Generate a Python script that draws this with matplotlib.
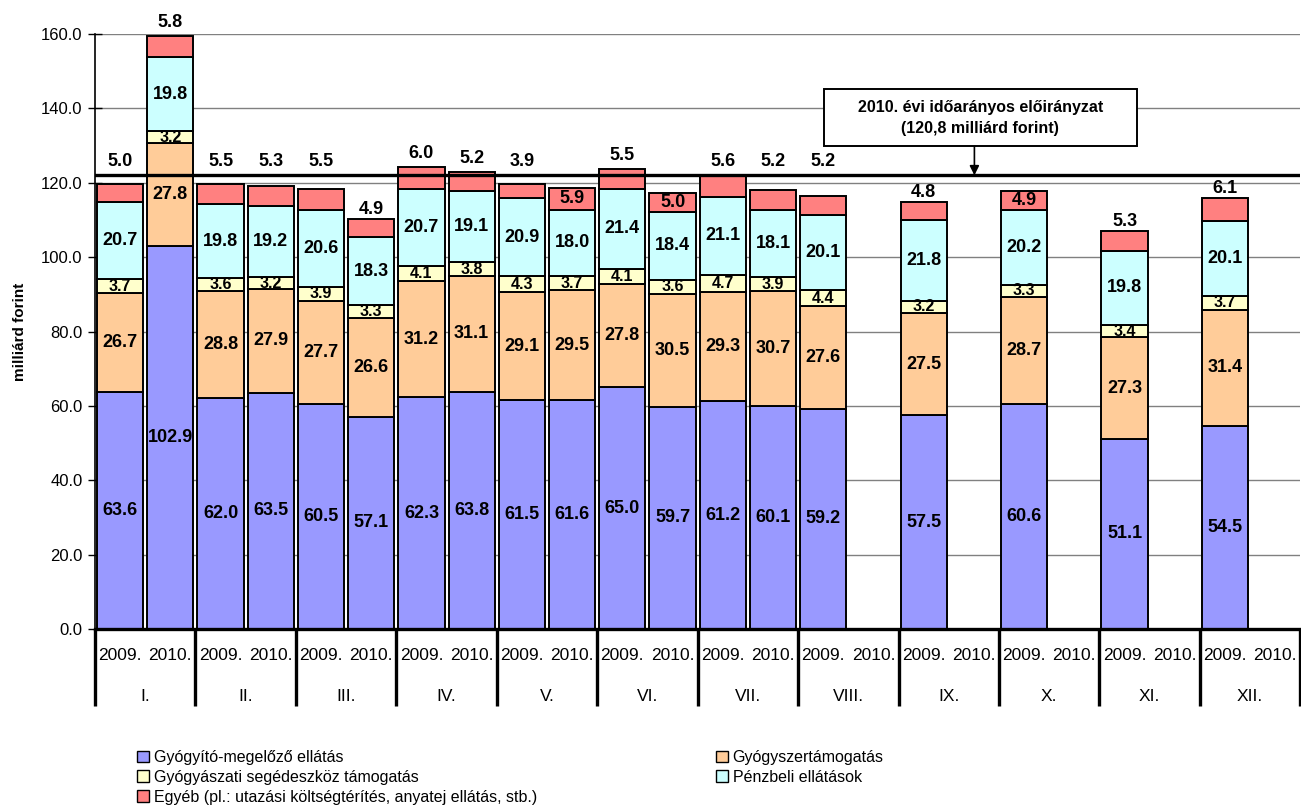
import numpy as np
import matplotlib
matplotlib.use("Agg")
from matplotlib import pyplot as plt
from matplotlib.patches import Patch, Rectangle

# data (milliárd forint)
months = ['I.', 'II.', 'III.', 'IV.', 'V.', 'VI.', 'VII.', 'VIII.', 'IX.', 'X.', 'XI.', 'XII.']
years = ['2009.', '2010.']

gyogyito_2009 = [63.6, 62.0, 60.5, 62.3, 61.5, 65.0, 61.2, 59.2, 57.5, 60.6, 51.1, 54.5]
gyogyszer_2009 = [26.7, 28.8, 27.7, 31.2, 29.1, 27.8, 29.3, 27.6, 27.5, 28.7, 27.3, 31.4]
segedeszkoz_2009 = [3.7, 3.6, 3.9, 4.1, 4.3, 4.1, 4.7, 4.4, 3.2, 3.3, 3.4, 3.7]
penzbeli_2009 = [20.7, 19.8, 20.6, 20.7, 20.9, 21.4, 21.1, 20.1, 21.8, 20.2, 19.8, 20.1]
egyeb_2009 = [5.0, 5.5, 5.5, 6.0, 3.9, 5.5, 5.6, 5.2, 4.8, 4.9, 5.3, 6.1]

gyogyito_2010 = [102.9, 63.5, 57.1, 63.8, 61.6, 59.7, 60.1]
gyogyszer_2010 = [27.8, 27.9, 26.6, 31.1, 29.5, 30.5, 30.7]
segedeszkoz_2010 = [3.2, 3.2, 3.3, 3.8, 3.7, 3.6, 3.9]
penzbeli_2010 = [19.8, 19.2, 18.3, 19.1, 18.0, 18.4, 18.1]
egyeb_2010 = [5.8, 5.3, 4.9, 5.2, 5.9, 5.0, 5.2]

eloiranyzat = 122.0  # drawn line level (label says 120,8)

series_names = ['Gyógyító-megelőző ellátás', 'Gyógyszertámogatás',
                'Gyógyászati segédeszköz támogatás', 'Pénzbeli ellátások',
                'Egyéb (pl.: utazási költségtérítés, anyatej ellátás, stb.)']
colors = ['#9999FF', '#FFCC99', '#FFFFCC', '#CCFFFF', '#FF8080']

plt.rcParams['font.family'] = ['Liberation Sans', 'DejaVu Sans']

fig = plt.figure(figsize=(13.01, 8.07), dpi=100)
ax = fig.add_axes([95 / 1301, 1 - 629 / 807, 1 - 95 / 1301 - 0.0005, 595 / 807])

data = {
    0: [gyogyito_2009, gyogyszer_2009, segedeszkoz_2009, penzbeli_2009, egyeb_2009],
    1: [gyogyito_2010, gyogyszer_2010, segedeszkoz_2010, penzbeli_2010, egyeb_2010],
}
# Egyéb labels that sit inside the red segment
inside = {(1, 4), (1, 5), (0, 9)}

w = 0.92
for yi in (0, 1):
    series = data[yi]
    n = len(series[0])
    x = np.arange(n) * 2 + yi + 0.5
    bottom = np.zeros(n)
    for si, vals in enumerate(series):
        vals = np.array(vals)
        ax.bar(x, vals, w, bottom=bottom, color=colors[si], edgecolor='black',
               linewidth=1.4, zorder=3)
        for k in range(n):
            if si < 4:
                fs = 11.5 if si == 2 else 13
                ax.text(x[k], bottom[k] + vals[k] / 2, f'{vals[k]:.1f}', ha='center',
                        va='center', fontsize=fs, fontweight='bold', zorder=5)
            else:
                top = bottom[k] + vals[k]
                if (yi, k) in inside:
                    ty = bottom[k] + vals[k] / 2
                elif top > 116:
                    ty = max(top, eloiranyzat) + 3.6
                else:
                    ty = top + 2.6
                ax.text(x[k], ty, f'{vals[k]:.1f}', ha='center', va='center',
                        fontsize=13, fontweight='bold', zorder=5, clip_on=False)
        bottom = bottom + vals

ax.set_xlim(0, 24)
ax.set_ylim(0, 160)
ax.set_yticks(np.arange(0, 161, 20))
ax.set_yticklabels([f'{v:.1f}' for v in np.arange(0, 161, 20)], fontsize=12)
ax.tick_params(axis='y', direction='inout', length=10, width=1, pad=4)
ax.set_xticks([])
ax.grid(axis='y', color='#808080', linewidth=1, zorder=0)
ax.set_axisbelow(True)
for s in ('top', 'right'):
    ax.spines[s].set_visible(False)
ax.spines['left'].set_linewidth(1.2)
ax.spines['bottom'].set_linewidth(2.4)
ax.spines['bottom'].set_zorder(6)
ax.set_ylabel('milliárd forint', fontsize=11, fontweight='bold', labelpad=10)

# target line
ax.axhline(eloiranyzat, color='black', linewidth=2.4, zorder=4)

# annotation box
box_x0, box_x1, box_y0, box_y1 = 14.51, 20.74, 129.8, 145.2
ax.add_patch(Rectangle((box_x0, box_y0), box_x1 - box_x0, box_y1 - box_y0,
                       facecolor='white', edgecolor='black', linewidth=1.4, zorder=6))
ax.text((box_x0 + box_x1) / 2, (box_y0 + box_y1) / 2,
        '2010. évi időarányos előirányzat\n(120,8 milliárd forint)',
        ha='center', va='center', fontsize=11.5, fontweight='bold',
        linespacing=1.5, zorder=7)
ax.annotate('', xy=(17.51, eloiranyzat), xytext=(17.51, box_y0),
            arrowprops=dict(arrowstyle='-|>', color='black', lw=1.2,
                            mutation_scale=14, shrinkA=0, shrinkB=0), zorder=7)

# category axis (two levels)
xt = ax.get_xaxis_transform()
for m in range(12):
    for yi in (0, 1):
        ax.text(2 * m + yi + 0.5, -0.0437, years[yi], transform=xt, ha='center',
                va='center', fontsize=12.5)
    ax.text(2 * m + 1, -0.114, months[m], transform=xt, ha='center', va='center',
            fontsize=12.5)
ax.vlines(np.arange(0, 25, 2), -0.129, 0, transform=xt, colors='black',
          linewidth=2.4, clip_on=False)

# legend
handles = [Patch(facecolor=c, edgecolor='black', linewidth=1) for c in colors]
order = [0, 2, 4, 1, 3]
fig.legend([handles[i] for i in order], [series_names[i] for i in order],
           loc='upper left', bbox_to_anchor=(129 / 1301, 1 - 742 / 807), ncol=2,
           frameon=False, handlelength=0.75, handleheight=0.75,
           handletextpad=0.3, labelspacing=0.3, columnspacing=11.2, borderpad=0,
           prop={'size': 11.5})

fig.savefig('out.png', dpi=100)
